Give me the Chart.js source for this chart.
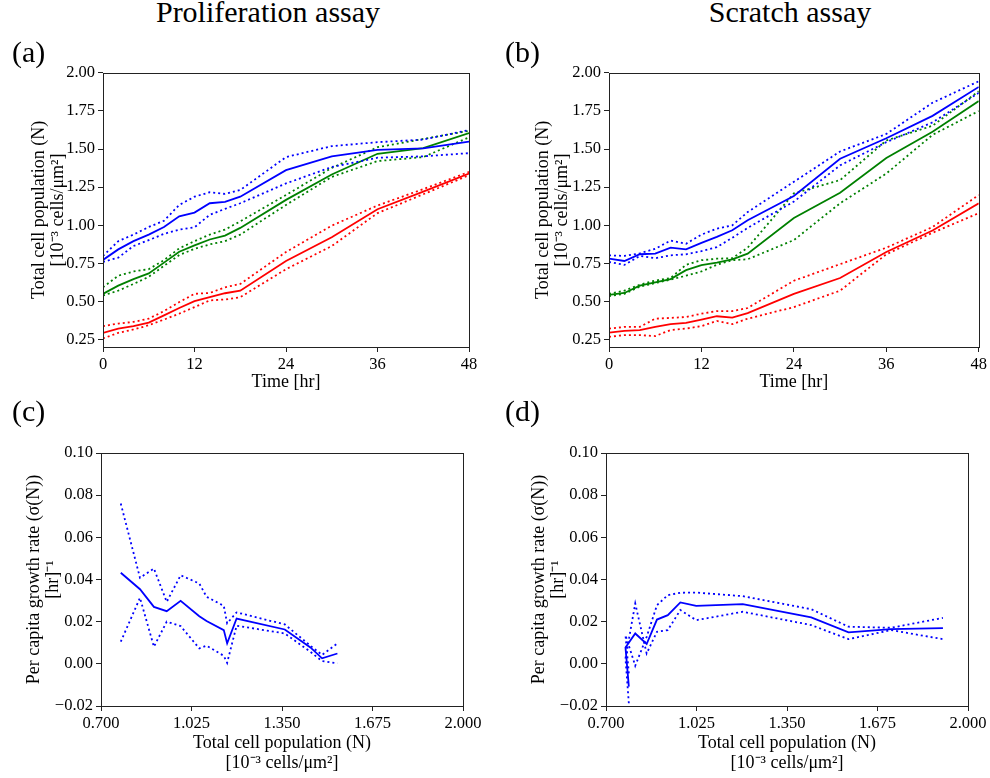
<!DOCTYPE html>
<html>
<head>
<meta charset="utf-8">
<script src="https://cdn.jsdelivr.net/npm/chart.js@4.4.0/dist/chart.umd.min.js"></script>
<style>
body { margin: 0; background: #fff; }
#fig { position: relative; width: 990px; height: 778px; overflow: hidden; font-family: "Liberation Serif", serif; color: #000; }
#fig canvas { position: absolute; }
.txt { position: absolute; white-space: nowrap; line-height: 34px; font-size: 30px; }
.title { transform: translateX(-50%); top: -5px; }
</style>
</head>
<body>
<div id="fig">
	<canvas id="chart-a" width="490" height="350" style="left:0;top:60px"></canvas>
	<canvas id="chart-b" width="485" height="350" style="left:505px;top:60px"></canvas>
	<canvas id="chart-c" width="495" height="358" style="left:0;top:420px"></canvas>
	<canvas id="chart-d" width="485" height="358" style="left:505px;top:420px"></canvas>
	<div class="txt title" style="left:268px">Proliferation assay</div>
	<div class="txt title" style="left:790px">Scratch assay</div>
	<div class="txt" style="left:12px;top:35px">(a)</div>
	<div class="txt" style="left:505px;top:35px">(b)</div>
	<div class="txt" style="left:12px;top:394px">(c)</div>
	<div class="txt" style="left:505px;top:394px">(d)</div>
</div>
<script>
// time points [hr]
const hours = [0, 2, 4, 6, 8, 10, 12, 14, 16, 18, 24, 30, 36, 42, 48];

// proliferation assay (a)
const prolifBlue   = [0.772, 0.841, 0.895, 0.938, 0.988, 1.058, 1.083, 1.144, 1.153, 1.187, 1.361, 1.452, 1.495, 1.504, 1.549];
const prolifBlueHi = [0.798, 0.895, 0.938, 0.988, 1.029, 1.133, 1.187, 1.216, 1.205, 1.231, 1.447, 1.519, 1.545, 1.562, 1.625];
const prolifBlueLo = [0.759, 0.787, 0.863, 0.902, 0.943, 0.971, 0.986, 1.068, 1.107, 1.144, 1.274, 1.382, 1.443, 1.452, 1.473];
const prolifGreen   = [0.549, 0.603, 0.646, 0.683, 0.754, 0.826, 0.867, 0.906, 0.932, 0.982, 1.166, 1.333, 1.469, 1.506, 1.605];
const prolifGreenHi = [0.592, 0.668, 0.696, 0.711, 0.770, 0.848, 0.895, 0.938, 0.971, 1.025, 1.198, 1.376, 1.512, 1.566, 1.620];
const prolifGreenLo = [0.538, 0.570, 0.614, 0.661, 0.733, 0.804, 0.845, 0.874, 0.895, 0.938, 1.133, 1.317, 1.421, 1.447, 1.577];
const prolifRed   = [0.293, 0.321, 0.337, 0.360, 0.408, 0.456, 0.501, 0.527, 0.553, 0.570, 0.765, 0.921, 1.105, 1.220, 1.339];
const prolifRedHi = [0.337, 0.354, 0.365, 0.386, 0.436, 0.495, 0.549, 0.555, 0.592, 0.614, 0.824, 0.997, 1.129, 1.237, 1.350];
const prolifRedLo = [0.256, 0.293, 0.315, 0.343, 0.380, 0.419, 0.462, 0.506, 0.512, 0.527, 0.711, 0.863, 1.079, 1.203, 1.328];

// scratch assay (b)
const scratchBlue   = [0.780, 0.765, 0.809, 0.813, 0.852, 0.841, 0.884, 0.923, 0.967, 1.032, 1.192, 1.436, 1.571, 1.718, 1.908];
const scratchBlueHi = [0.802, 0.798, 0.815, 0.845, 0.899, 0.878, 0.938, 0.977, 0.999, 1.086, 1.285, 1.484, 1.599, 1.804, 1.945];
const scratchBlueLo = [0.759, 0.739, 0.798, 0.783, 0.802, 0.809, 0.830, 0.856, 0.917, 0.982, 1.155, 1.393, 1.545, 1.675, 1.869];
const scratchGreen   = [0.542, 0.555, 0.603, 0.625, 0.646, 0.705, 0.737, 0.754, 0.776, 0.813, 1.047, 1.213, 1.441, 1.614, 1.815];
const scratchGreenHi = [0.549, 0.570, 0.609, 0.636, 0.653, 0.740, 0.770, 0.780, 0.783, 0.852, 1.209, 1.296, 1.556, 1.653, 1.880];
const scratchGreenLo = [0.534, 0.549, 0.596, 0.620, 0.642, 0.668, 0.696, 0.740, 0.770, 0.776, 0.902, 1.144, 1.339, 1.593, 1.750];
const scratchRed   = [0.295, 0.306, 0.311, 0.332, 0.350, 0.358, 0.380, 0.402, 0.393, 0.423, 0.549, 0.653, 0.824, 0.965, 1.144];
const scratchRedHi = [0.321, 0.332, 0.332, 0.386, 0.391, 0.397, 0.419, 0.436, 0.436, 0.456, 0.635, 0.744, 0.852, 0.988, 1.198];
const scratchRedLo = [0.267, 0.278, 0.278, 0.272, 0.311, 0.321, 0.337, 0.371, 0.350, 0.386, 0.462, 0.570, 0.809, 0.950, 1.079];

// growth rate vs population (c)
const prolifN     = [0.771, 0.840, 0.890, 0.936, 0.986, 1.053, 1.079, 1.141, 1.153, 1.187, 1.360, 1.452, 1.494, 1.549];
const prolifRate   = [0.0432, 0.0354, 0.0270, 0.0250, 0.0299, 0.0226, 0.0203, 0.0160, 0.0097, 0.0215, 0.0163, 0.0078, 0.0026, 0.0049];
const prolifRateHi = [0.0760, 0.0408, 0.0452, 0.0294, 0.0420, 0.0381, 0.0318, 0.0275, 0.0192, 0.0244, 0.0187, 0.0086, 0.0042, 0.0097];
const prolifRateLo = [0.0105, 0.0313, 0.0081, 0.0200, 0.0179, 0.0073, 0.0086, 0.0038, 0.0005, 0.0181, 0.0144, 0.0057, 0.0013, 0.0002];

// growth rate vs population (d)
const scratchN     = [0.782, 0.770, 0.805, 0.846, 0.883, 0.922, 0.967, 1.024, 1.191, 1.437, 1.571, 1.724, 1.910];
const scratchRate   = [-0.0108, 0.0078, 0.0144, 0.0094, 0.0210, 0.0231, 0.0291, 0.0275, 0.0283, 0.0220, 0.0149, 0.0165, 0.0169];
const scratchRateHi = [-0.0045, 0.0136, -0.0009, 0.0128, 0.0278, 0.0326, 0.0337, 0.0338, 0.0321, 0.0259, 0.0176, 0.0171, 0.0218];
const scratchRateLo = [-0.0187, 0.0026, 0.0286, 0.0049, 0.0152, 0.0160, 0.0255, 0.0207, 0.0247, 0.0184, 0.0117, 0.0160, 0.0117];

// tick labels
const timeTicks = [0, 12, 24, 36, 48];
const popTicks = [0.25, 0.50, 0.75, 1.00, 1.25, 1.50, 1.75, 2.00];
const popNTicks = [0.700, 1.025, 1.350, 1.675, 2.000];
const rateTicks = [-0.02, 0.00, 0.02, 0.04, 0.06, 0.08, 0.10];

const BLUE = "#0000ff", GREEN = "#008000", RED = "#ff0000";
const FONT = "'Liberation Serif', serif";
const popTitle = ["Total cell population (N)", "[10\u207B\u00B3 cells/\u03BCm\u00B2]"];
const rateTitle = ["Per capita growth rate (\u03C3(N))", "[hr]\u207B\u00B9"];

const fmt = d => v => (v < 0 ? "\u2212" : "") + Math.abs(v).toFixed(d);

const framePlugin = {
	id: "frame",
	afterDraw(chart) {
		const {ctx, chartArea: a} = chart;
		ctx.save();
		ctx.strokeStyle = "#222";
		ctx.lineWidth = 1;
		ctx.strokeRect(Math.round(a.left) + 0.5, Math.round(a.top) + 0.5, Math.round(a.width), Math.round(a.height));
		ctx.restore();
	}
};

function line(xs, ys, color, dotted) {
	return {
		data: xs.map((x, i) => ({x: x, y: ys[i]})),
		borderColor: color,
		borderWidth: 1.8,
		borderDash: dotted ? [2, 3] : [],
		showLine: true,
		pointRadius: 0,
		tension: 0
	};
}

function scale(pos, min, max, ticks, digits, size, title, titlePad) {
	return {
		type: "linear",
		position: pos,
		min: min,
		max: max,
		afterBuildTicks: s => { s.ticks = ticks.map(v => ({value: v})); },
		afterFit: s => { if (pos === "left") s.width = size; else s.height = size; },
		border: {display: false},
		grid: {drawOnChartArea: false, drawTicks: true, tickLength: 5, color: "#222"},
		ticks: {autoSkip: false, maxRotation: 0, padding: 3, color: "#000", font: {family: FONT, size: 16.5}, callback: fmt(digits)},
		title: {display: true, text: title, color: "#000", font: {family: FONT, size: 18, lineHeight: 1.1}, padding: titlePad}
	};
}

function makeChart(id, datasets, x, y, pad) {
	return new Chart(document.getElementById(id), {
		type: "scatter",
		data: {datasets: datasets},
		options: {
			responsive: false,
			animation: false,
			events: [],
			layout: {padding: pad},
			plugins: {legend: {display: false}, tooltip: {enabled: false}},
			scales: {x: x, y: y}
		},
		plugins: [framePlugin]
	});
}

makeChart("chart-a", [
	line(hours, prolifBlue, BLUE), line(hours, prolifBlueHi, BLUE, true), line(hours, prolifBlueLo, BLUE, true),
	line(hours, prolifGreen, GREEN), line(hours, prolifGreenHi, GREEN, true), line(hours, prolifGreenLo, GREEN, true),
	line(hours, prolifRed, RED), line(hours, prolifRedHi, RED, true), line(hours, prolifRedLo, RED, true)
],
	scale("bottom", 0, 48, timeTicks, 0, 63, "Time [hr]", {top: 0, bottom: 18}),
	scale("left", 0.2, 2.0, popTicks, 2, 103, popTitle, {top: 29, bottom: 0}),
	{left: 0, top: 10, right: 21, bottom: 0});

makeChart("chart-b", [
	line(hours, scratchBlue, BLUE), line(hours, scratchBlueHi, BLUE, true), line(hours, scratchBlueLo, BLUE, true),
	line(hours, scratchGreen, GREEN), line(hours, scratchGreenHi, GREEN, true), line(hours, scratchGreenLo, GREEN, true),
	line(hours, scratchRed, RED), line(hours, scratchRedHi, RED, true), line(hours, scratchRedLo, RED, true)
],
	scale("bottom", 0, 48, timeTicks, 0, 63, "Time [hr]", {top: 0, bottom: 18}),
	scale("left", 0.2, 2.0, popTicks, 2, 104, popTitle, {top: 28, bottom: 0}),
	{left: 0, top: 10, right: 11, bottom: 0});

makeChart("chart-c", [
	line(prolifN, prolifRate, BLUE), line(prolifN, prolifRateHi, BLUE, true), line(prolifN, prolifRateLo, BLUE, true)
],
	scale("bottom", 0.7, 2.0, popNTicks, 3, 72, popTitle, {top: 0, bottom: 5}),
	scale("left", -0.02, 0.10, rateTicks, 2, 101, rateTitle, {top: 24, bottom: 0}),
	{left: 0, top: 33, right: 32, bottom: 0});

makeChart("chart-d", [
	line(scratchN, scratchRate, BLUE), line(scratchN, scratchRateHi, BLUE, true), line(scratchN, scratchRateLo, BLUE, true)
],
	scale("bottom", 0.7, 2.0, popNTicks, 3, 72, popTitle, {top: 0, bottom: 5}),
	scale("left", -0.02, 0.10, rateTicks, 2, 101, rateTitle, {top: 24, bottom: 0}),
	{left: 0, top: 33, right: 22, bottom: 0});
</script>
</body>
</html>
